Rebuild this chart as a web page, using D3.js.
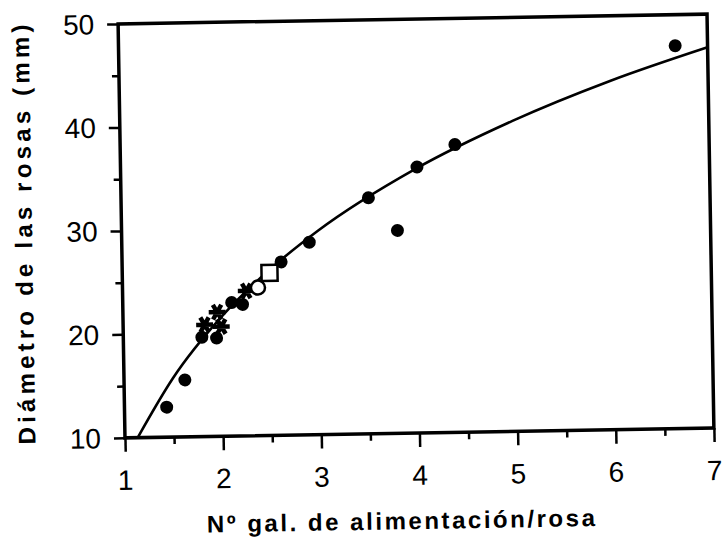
<!DOCTYPE html>
<meta charset="utf-8">
<style>
body { margin: 0; background: #fff; }
svg { display: block; }
.tick-label { font: 28px "Liberation Sans", Arial, sans-serif; fill: #000; }
.axis-title { font: bold 24px "Liberation Sans", Arial, sans-serif; fill: #000; }
</style>
<body>
<svg id="chart" width="723" height="550"></svg>
<script src="https://cdn.jsdelivr.net/npm/d3@7"></script>
<script>

// filled circles (main series)
var dotX = [1.43, 1.62, 1.80, 1.95, 2.11, 2.22, 2.62, 2.91, 3.52, 3.81, 4.02, 4.41, 6.67];
var dotY = [12.9, 15.5, 19.6, 19.5, 22.9, 22.7, 26.75, 28.6, 32.8, 29.6, 35.7, 37.8, 47.0];

// asterisk markers
var starX = [1.83, 1.96, 2.00, 2.26];
var starY = [20.8, 22.0, 20.6, 24.0];

// open circle and open square
var ringX = [2.38];
var ringY = [24.3];
var squareX = [2.50];
var squareY = [25.7];

// fitted curve
var curveX = [1.13, 1.5, 2, 2.5, 3, 4, 5, 6, 7];
var curveY = [10, 15.7, 21.5, 26.0, 29.7, 35.5, 40.0, 43.7, 46.8];

var xTicks = [1, 2, 3, 4, 5, 6, 7];
var yTicks = [10, 20, 30, 40, 50];

// plot frame (note: "top" is taken by window.top)
var frameL = 121.5, frameR = 710.5, frameT = 19, frameB = 433;

var x = d3.scaleLinear().domain([1, 7]).range([frameL, frameR]);
var y = d3.scaleLinear().domain([10, 50]).range([frameB, frameT]);

var svg = d3.select("#chart");
// the scanned figure sits a little crooked
var g = svg.append("g").attr("transform", "rotate(-0.95, 416, 226)");

// x axis ticks
var xAxis = g.append("g").attr("transform", "translate(0," + frameB + ")");
xAxis.call(d3.axisBottom(x).tickValues(d3.range(1.5, 7, 1)).tickSize(7).tickFormat(""));
xAxis.append("g").call(d3.axisBottom(x).tickValues(xTicks).tickSize(14).tickFormat(""));
xAxis.selectAll("path.domain").remove();
xAxis.selectAll("line").attr("stroke", "#000").attr("stroke-width", 2.5);

g.selectAll(".xlab").data(xTicks).enter().append("text")
  .attr("class", "tick-label")
  .attr("x", function(d) { return x(d); })
  .attr("y", frameB + 52)
  .attr("text-anchor", "middle")
  .text(function(d) { return d; });

// y axis ticks
var yAxis = g.append("g").attr("transform", "translate(" + frameL + ",0)");
yAxis.call(d3.axisLeft(y).tickValues(d3.range(15, 50, 10)).tickSize(7).tickFormat(""));
yAxis.append("g").call(d3.axisLeft(y).tickValues(yTicks).tickSize(11).tickFormat(""));
yAxis.selectAll("path.domain").remove();
yAxis.selectAll("line").attr("stroke", "#000").attr("stroke-width", 2.5);

g.selectAll(".ylab").data(yTicks).enter().append("text")
  .attr("class", "tick-label")
  .attr("x", frameL - 24)
  .attr("y", function(d) { return y(d) + 10; })
  .attr("text-anchor", "end")
  .text(function(d) { return d; });

// frame
g.append("rect")
  .attr("x", frameL).attr("y", frameT)
  .attr("width", frameR - frameL).attr("height", frameB - frameT)
  .attr("fill", "none").attr("stroke", "#000").attr("stroke-width", 3.5);

// curve
var line = d3.line()
  .x(function(d) { return x(d[0]); })
  .y(function(d) { return y(d[1]); })
  .curve(d3.curveMonotoneX);

g.append("path")
  .datum(d3.zip(curveX, curveY))
  .attr("d", line)
  .attr("fill", "none")
  .attr("stroke", "#000")
  .attr("stroke-width", 2.6);

// markers
g.selectAll(".dot").data(d3.zip(dotX, dotY)).enter().append("circle")
  .attr("cx", function(d) { return x(d[0]); })
  .attr("cy", function(d) { return y(d[1]); })
  .attr("r", 6.5)
  .attr("fill", "#000");

var star = d3.symbol().type(d3.symbolAsterisk).size(200);
g.selectAll(".star").data(d3.zip(starX, starY)).enter().append("path")
  .attr("d", star)
  .attr("transform", function(d) { return "translate(" + x(d[0]) + "," + y(d[1]) + ") rotate(90)"; })
  .attr("fill", "none")
  .attr("stroke", "#000")
  .attr("stroke-width", 4.5);

g.selectAll(".ring").data(d3.zip(ringX, ringY)).enter().append("circle")
  .attr("cx", function(d) { return x(d[0]); })
  .attr("cy", function(d) { return y(d[1]); })
  .attr("r", 7)
  .attr("fill", "#fff")
  .attr("stroke", "#000")
  .attr("stroke-width", 2.5);

g.selectAll(".square").data(d3.zip(squareX, squareY)).enter().append("rect")
  .attr("x", function(d) { return x(d[0]) - 8; })
  .attr("y", function(d) { return y(d[1]) - 8; })
  .attr("width", 16).attr("height", 16)
  .attr("fill", "#fff")
  .attr("stroke", "#000")
  .attr("stroke-width", 2.5);

// titles
g.append("text")
  .attr("class", "axis-title")
  .attr("x", 396).attr("y", 529)
  .attr("text-anchor", "middle")
  .attr("textLength", 388).attr("lengthAdjust", "spacing")
  .text("Nº gal. de alimentación/rosa");

g.append("text")
  .attr("class", "axis-title")
  .attr("transform", "translate(32,228) rotate(-90)")
  .attr("text-anchor", "middle")
  .attr("textLength", 420).attr("lengthAdjust", "spacing")
  .text("Diámetro de las rosas (mm)");

</script>
</body>
